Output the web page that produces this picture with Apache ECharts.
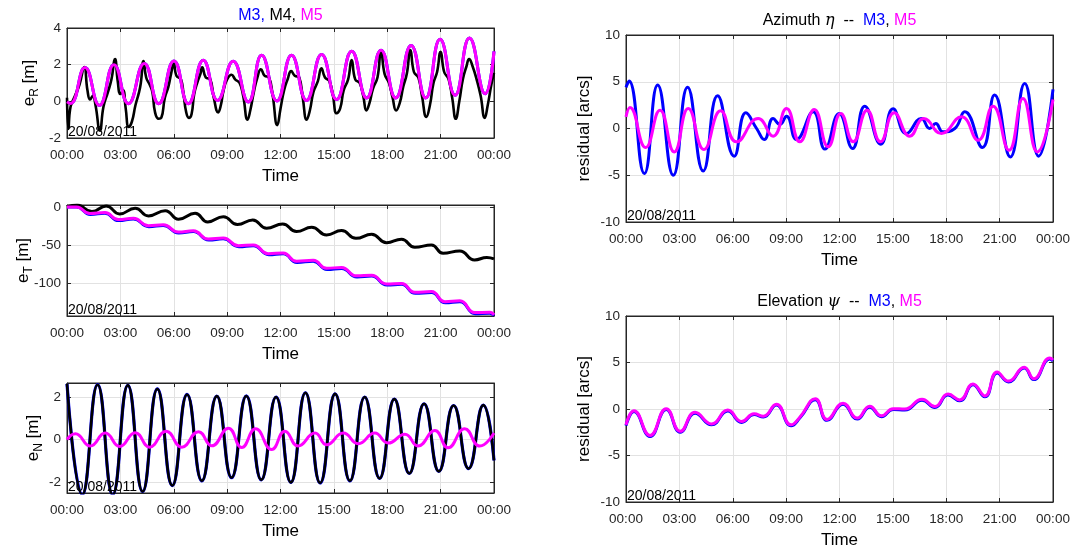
<!DOCTYPE html>
<html>
<head>
<meta charset="utf-8">
<script src="https://cdn.jsdelivr.net/npm/echarts@6/dist/echarts.min.js"></script>
<style>html,body{margin:0;padding:0;background:#fff}#c{width:1073px;height:551px}</style>
</head>
<body>
<div id="c"></div>
<script>
// ---------- DATA (time in hours, value) ----------
const timeTicks = ['00:00','03:00','06:00','09:00','12:00','15:00','18:00','21:00','00:00'];
const dateLabel = '20/08/2011';

const eR_M5 = [[0,-0.02],[0.2,-0.12],[1.01,1.84],[1.82,-0.22],[2.64,2.0],[3.45,-0.13],[4.34,2.07],[5.15,-0.13],[6.01,2.2],[6.82,-0.13],[7.66,2.24],[8.46,0.05],[9.34,2.18],[10.19,-0.04],[10.94,2.51],[11.8,0.02],[12.62,2.51],[13.46,0.05],[14.31,2.55],[15.15,0.1],[16.0,2.73],[16.84,0.18],[17.65,2.78],[18.47,0.18],[19.34,3.05],[20.16,0.18],[20.97,3.38],[21.81,0.33],[22.62,3.45],[23.5,0.42],[24,2.73]];
const eR_M3 = eR_M5;
const eR_M4 = [[0,0.2],[0.08,-1.5],[0.2,-0.3],[0.45,0.3],[0.7,0.9],
 [0.97,1.87],[1.15,0.6],[1.3,0.1],[1.45,0.3],[1.6,-0.2],[1.85,-1.6],[2.05,-0.3],[2.3,0.5],[2.5,1.2],
 [2.7,2.3],[2.85,1.1],[3.0,0.4],[3.15,0.6],[3.3,-0.4],[3.47,-1.4],[3.65,-1.1],[3.85,-0.2],[4.05,0.5],[4.15,1.0],
 [4.3,2.2],[4.45,1.3],[4.65,0.9],[4.8,0.5],[4.95,-0.6],[5.15,-0.95],[5.3,-0.9],[5.5,0.2],[5.7,0.8],[5.85,1.5],
 [6.0,2.05],[6.15,1.4],[6.4,1.2],[6.55,0.4],[6.7,-0.6],[6.85,-0.9],[7.0,-0.7],[7.15,0.4],[7.35,1.1],[7.5,1.5],
 [7.6,1.85],[7.8,1.3],[8.05,1.2],[8.25,0.2],[8.5,-0.6],[8.65,-0.2],[8.8,0.6],[9.0,1.2],
 [9.25,1.45],[9.45,1.2],[9.7,1.0],[9.9,0.3],[10.15,-1.0],[10.3,-0.5],[10.5,0.5],[10.7,1.3],
 [10.9,1.75],[11.1,1.4],[11.35,1.3],[11.55,0.4],[11.82,-1.3],[12.0,-0.4],[12.2,0.6],[12.4,1.2],
 [12.6,1.65],[12.8,1.4],[13.05,1.3],[13.25,0.2],[13.47,-1.0],[13.65,-0.5],[13.85,0.5],[14.1,1.1],
 [14.3,1.8],[14.5,1.3],[14.75,1.1],[14.95,0.3],[15.15,-0.65],[15.35,-0.4],[15.55,0.6],[15.8,1.2],
 [16.0,2.25],[16.2,1.2],[16.45,1.0],[16.65,0.3],[16.83,-0.5],[17.0,-0.1],[17.2,0.7],[17.45,1.3],
 [17.65,2.75],[17.85,1.5],[18.1,1.0],[18.3,0.2],[18.5,-0.5],[18.7,-0.1],[18.9,0.8],[19.1,1.5],
 [19.3,2.8],[19.5,1.6],[19.75,1.3],[19.95,0.3],[20.2,-0.85],[20.4,-0.2],[20.6,1.0],[20.8,1.6],
 [21.0,2.7],[21.2,1.6],[21.45,1.2],[21.65,0.2],[21.85,-0.95],[22.05,0.0],[22.25,1.2],[22.45,1.9],
 [22.6,2.3],[22.8,1.9],[23.05,1.1],[23.25,0.3],[23.48,-0.9],[23.65,-0.2],[23.85,0.9],[24.0,1.55]];

const eT_M4 = [[0,0.9],[0.56,3],[1.4,-5.7],[2.2,1.8],[2.96,-8.8],[3.83,-1.3],[4.58,-11.4],[5.52,-4.4],[6.27,-15.8],[7.2,-7.9],[7.91,-19.3],[8.79,-12.3],[9.58,-22.8],[10.44,-16.7],[11.22,-27.6],[12.12,-21.9],[12.9,-32],[13.75,-26.3],[14.59,-36.4],[15.43,-30.7],[16.24,-40.8],[17.12,-35.5],[17.96,-46.5],[18.8,-42],[19.55,-52.6],[20.48,-49.6],[21.14,-60.5],[22.07,-57.5],[22.91,-69.3],[23.6,-66],[24,-68]];
const eT_M5 = [[0,0.5],[0.54,0.5],[1.29,-8.3],[2.13,-7],[2.88,-16.2],[3.73,-14.5],[4.57,-24.2],[5.41,-23],[6.25,-32.5],[7.1,-31],[7.94,-41.8],[8.78,-40.5],[9.63,-50.5],[10.47,-49.5],[11.31,-61],[12.15,-60],[12.9,-71],[13.84,-69.8],[14.59,-80.2],[15.43,-79.2],[16.27,-90.2],[17.12,-89.4],[17.96,-100.8],[18.8,-100.2],[19.55,-111.8],[20.48,-110.8],[21.24,-124.2],[22.08,-123],[22.92,-138.5],[23.76,-138],[24,-141.5]];
const eT_M3 = [[0,0.5],[0.54,0.3],[1.32,-9.5],[2.13,-7.8],[2.9,-17.5],[3.73,-15.3],[4.6,-25.5],[5.41,-24],[6.28,-33.8],[7.1,-32],[7.97,-43],[8.78,-41.5],[9.66,-51.8],[10.47,-50.5],[11.34,-62.3],[12.15,-61],[12.93,-72.5],[13.84,-71],[14.62,-81.8],[15.43,-80.4],[16.3,-91.6],[17.12,-90.5],[17.99,-102.2],[18.8,-101.3],[19.58,-113.2],[20.48,-112],[21.27,-125.6],[22.08,-124.2],[22.95,-140],[23.76,-139.5],[24,-142.5]];

const eN_M4 = [[0,2.62],[0.86,-2.6],[1.72,2.58],[2.57,-2.6],[3.42,2.55],[4.25,-2.45],[5.08,2.38],[5.92,-2.17],[6.75,2.12],[7.58,-1.95],[8.42,2.04],[9.25,-1.8],[10.08,2.05],[10.92,-1.9],[11.75,2.0],[12.58,-2.02],[13.4,2.2],[14.23,-2.05],[15.07,2.15],[15.9,-1.95],[16.73,2.0],[17.57,-1.83],[18.4,1.9],[19.24,-1.6],[20.07,1.68],[20.9,-1.5],[21.73,1.6],[22.57,-1.37],[23.4,1.62],[24,-0.98]];
const eN_M3 = eN_M4;
const eN_M5 = [[0,0],[0.47,0.27],[1.31,-0.31],[2.15,0.3],[2.96,-0.33],[3.83,0.32],[4.64,-0.36],[5.57,0.39],[6.45,-0.36],[7.39,0.37],[8.14,-0.3],[9.07,0.53],[9.82,-0.38],[10.6,0.5],[11.5,-0.47],[12.25,0.39],[12.99,-0.31],[13.94,0.3],[14.59,-0.25],[15.53,0.3],[16.37,-0.2],[17.3,0.3],[18.05,-0.17],[18.99,0.25],[19.73,-0.31],[20.67,0.42],[21.42,-0.39],[22.35,0.5],[23.2,-0.31],[24,0.3]];

const az_M3 = [[0,4.4],[0.17,5.07],[1.03,-4.82],[1.78,4.64],[2.66,-5.0],[3.46,4.4],[4.34,-4.54],[5.15,3.5],[6.08,-2.96],[6.74,1.68],[7.34,0],[7.77,-1.18],[8.27,1.07],[8.65,0.43],[9.02,1.32],[9.58,-1.18],[10.52,1.79],[11.18,-2.2],[11.98,1.6],[12.73,-2.14],[13.42,2.39],[14.32,-1.68],[15.01,2.1],[15.76,-0.54],[16.6,1.07],[17.07,0],[17.41,0.54],[17.82,-0.36],[18.48,0],[19.04,1.79],[20.03,-2.04],[20.72,3.57],[21.6,-3.04],[22.41,4.82],[23.19,-2.96],[24,4.18]];
const az_M5 = [[0,1.25],[0.22,2.25],[1.1,-2.04],[1.91,1.96],[2.71,-2.5],[3.5,2.14],[4.38,-2.25],[5.32,1.89],[6.21,-1.43],[7.43,1.07],[8.27,-0.82],[9.02,2.14],[9.77,-1.43],[10.58,2.04],[11.36,-1.96],[12.07,1.6],[12.77,-1.43],[13.55,1.96],[14.3,-1.43],[15.07,1.68],[15.95,-0.82],[16.74,1.07],[17.73,-0.54],[18.85,1.25],[19.79,-1.25],[20.63,2.39],[21.53,-2.32],[22.31,3.21],[23.12,-2.5],[24,3.1]];

const el_M5 = [[0,-1.7],[0.45,-0.18],[1.35,-2.85],[2.26,0.04],[3.05,-2.4],[3.88,-0.35],[4.81,-1.6],[5.72,-0.12],[6.5,-1.34],[7.2,-0.52],[7.72,-0.77],[8.45,0.5],[9.28,-1.7],[9.78,-0.85],[10.64,1.1],[11.3,-1.12],[12.2,0.62],[13.0,-0.98],[13.7,0.3],[14.36,-0.73],[15.02,0.04],[15.67,0],[16.64,1.05],[17.36,0.27],[18.1,1.6],[18.76,0.98],[19.5,2.7],[20.17,1.41],[20.86,3.98],[21.5,3.0],[22.38,4.5],[22.92,3.26],[23.82,5.48],[24,5.27]];
const el_M3 = [[0,-1.8],[0.45,-0.28],[1.35,-2.95],[2.26,-0.06],[3.05,-2.5],[3.88,-0.45],[4.81,-1.7],[5.72,-0.22],[6.5,-1.44],[7.2,-0.6],[7.72,-0.87],[8.45,0.42],[9.28,-1.8],[9.78,-0.95],[10.64,1.0],[11.3,-1.22],[12.2,0.52],[13.0,-1.08],[13.7,0.2],[14.36,-0.83],[15.02,-0.06],[15.67,-0.1],[16.64,0.95],[17.36,0.17],[18.1,1.5],[18.76,0.88],[19.5,2.6],[20.17,1.31],[20.86,3.88],[21.5,2.9],[22.38,4.4],[22.92,3.16],[23.82,5.38],[24,5.17]];

// ---------- STYLE ----------
const FF = '"Liberation Sans", Arial, Helvetica, sans-serif';
const AX = '#262626';
const BLUE = '#0000ff', MAG = '#ff00ff', BLK = '#000000';

const grids = [
  {left:67, top:28, width:427, height:110},
  {left:67, top:205, width:427, height:111},
  {left:67, top:383, width:427, height:110},
  {left:626, top:35, width:427, height:187},
  {left:626, top:316, width:427, height:186}
];
const yCfg = [
  {min:-2, max:4, interval:2, name:'{e|e}{s|R}{e| [m]}', gap:26},
  {min:-143, max:3, iv:50, name:'{e|e}{s|T}{e| [m]}', gap:32},
  {min:-2.52, max:2.66, iv:2, name:'{e|e}{s|N}{e| [m]}', gap:22},
  {min:-10, max:10, interval:5, name:'{e|residual [arcs]}', gap:30},
  {min:-10, max:10, interval:5, name:'{e|residual [arcs]}', gap:30}
];

const xAxes = [], yAxes = [];
grids.forEach((g,i)=>{
  xAxes.push({gridIndex:i, type:'value', min:0, max:24, interval:3, position:'bottom',
    name:'Time', nameLocation:'middle', nameGap:30, nameMoveOverlap:false,
    nameTextStyle:{fontFamily:FF, fontSize:17, color:'#000'},
    axisLine:{show:true, onZero:false, lineStyle:{color:AX, width:1}},
    axisTick:{show:true, inside:true, length:4, lineStyle:{color:AX}},
    axisLabel:{fontFamily:FF, fontSize:13.5, color:AX, margin:10,
      formatter:(v)=>timeTicks[Math.round(v/3)]},
    splitLine:{show:true, lineStyle:{color:'#e2e2e2', width:1}}
  });
  xAxes.push({gridIndex:i, type:'value', min:0, max:24, interval:3, position:'top',
    axisLine:{show:true, onZero:false, lineStyle:{color:AX}}, axisTick:{show:true, inside:true, length:4, lineStyle:{color:AX}},
    axisLabel:{show:false}, splitLine:{show:false}});
  const c = yCfg[i];
  const base = {gridIndex:i, type:'value', min:c.min, max:c.max};
  if (c.interval) base.interval = c.interval; else { base.minInterval = c.iv; base.maxInterval = c.iv; }
  yAxes.push(Object.assign({}, base, {position:'left',
    name:c.name, nameLocation:'middle', nameGap:c.gap, nameMoveOverlap:false,
    nameTextStyle:{rich:{
      e:{fontFamily:FF, fontSize:17, color:'#000', lineHeight:24, verticalAlign:'middle'},
      s:{fontFamily:FF, fontSize:12, color:'#000', lineHeight:12, verticalAlign:'bottom'}
    }},
    axisLine:{show:true, onZero:false, lineStyle:{color:AX, width:1}},
    axisTick:{show:true, inside:true, length:4, lineStyle:{color:AX}},
    axisLabel:{fontFamily:FF, fontSize:13.5, color:AX, margin:6,
      showMinLabel: c.interval ? true : false, showMaxLabel: c.interval ? true : false},
    splitLine:{show:true, lineStyle:{color:'#e2e2e2', width:1}}
  }));
  yAxes.push(Object.assign({}, base, {position:'right',
    axisLine:{show:true, onZero:false, lineStyle:{color:AX}}, axisTick:{show:true, inside:true, length:4, lineStyle:{color:AX}},
    axisLabel:{show:false}, splitLine:{show:false}}));
});

function line(data, gi, color, width){
  return {type:'line', data:data, xAxisIndex:2*gi, yAxisIndex:2*gi, smooth:true,
    showSymbol:false, symbol:'none', clip:true, silent:true,
    lineStyle:{color:color, width:width}, itemStyle:{color:color}};
}

const series = [
  line(eR_M3,0,BLUE,3), line(eR_M4,0,BLK,2.6), line(eR_M5,0,MAG,3),
  line(eT_M3,1,BLUE,3), line(eT_M4,1,BLK,3), line(eT_M5,1,MAG,3),
  line(eN_M3,2,BLUE,3.2), line(eN_M4,2,BLK,2.6), line(eN_M5,2,MAG,3),
  line(az_M3,3,BLUE,3), line(az_M5,3,MAG,3),
  line(el_M3,4,BLUE,3), line(el_M5,4,MAG,3)
];

const richT = {
  k:{font:'16px '+FF, fontFamily:FF, fontSize:16, fill:'#000'},
  b:{font:'16px '+FF, fontFamily:FF, fontSize:16, fill:BLUE},
  m:{font:'16px '+FF, fontFamily:FF, fontSize:16, fill:MAG},
  g:{font:'italic 16px "DejaVu Serif", serif', fontFamily:'"DejaVu Serif", serif', fontStyle:'italic', fontSize:16, fill:'#000'}
};
function ttl(x,y,text){
  return {type:'text', x:x, y:y, silent:true,
    style:{text:text, rich:richT, textAlign:'center', align:'center', textVerticalAlign:'middle', verticalAlign:'middle', font:'16px '+FF, fill:'#000'}};
}
function dateTxt(g){
  return {type:'text', x:g.left+1, y:g.top+g.height+1, silent:true, z:100,
    style:{text:dateLabel, font:'14px '+FF, fill:'#000', textAlign:'left', align:'left', textVerticalAlign:'bottom', verticalAlign:'bottom'}};
}

const graphic = [
  ttl(280.5, 16, '{b|M3,}{k| M4, }{m|M5}'),
  ttl(839.5, 21, '{k|Azimuth }{g|η}{k|  --  }{b|M3}{k|, }{m|M5}'),
  ttl(839.5, 302, '{k|Elevation }{g|ψ}{k|  --  }{b|M3}{k|, }{m|M5}')
].concat(grids.map(dateTxt));

const chart = echarts.init(document.getElementById('c'), null, {renderer:'canvas'});
chart.setOption({
  animation:false,
  backgroundColor:'#fff',
  grid: grids.map(g=>Object.assign({show:true, borderColor:AX, borderWidth:1, backgroundColor:'#fff', containLabel:false}, g)),
  xAxis: xAxes,
  yAxis: yAxes,
  series: series,
  graphic: graphic
});
</script>
</body>
</html>
